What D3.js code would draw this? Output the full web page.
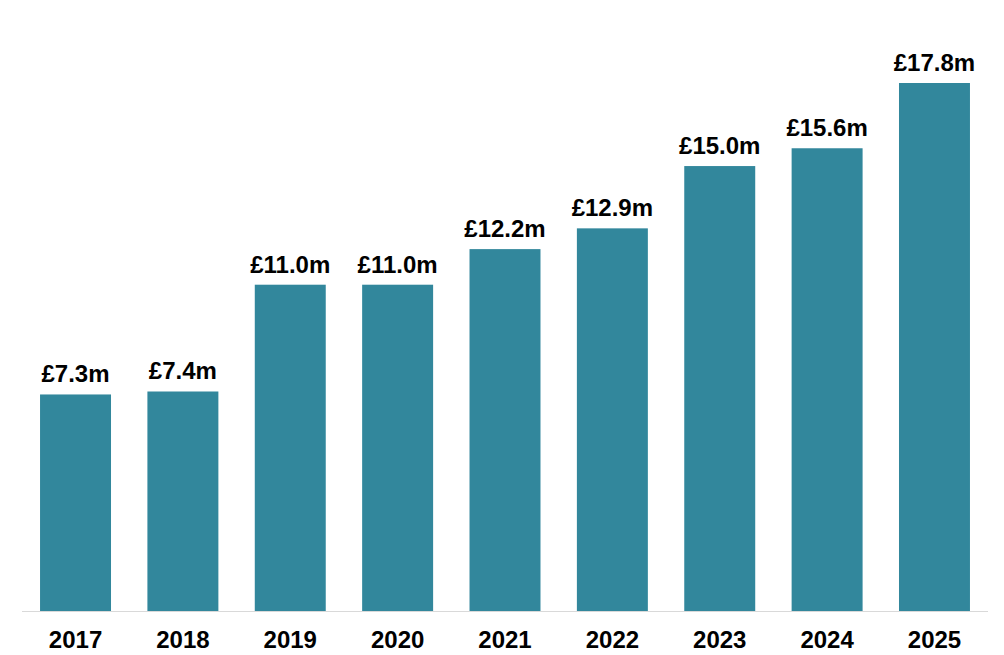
<!DOCTYPE html>
<html>
<head>
<meta charset="UTF-8">
<title>Annual value</title>
<script src="https://d3js.org/d3.v7.min.js"></script>
<style>
  body { margin: 0; background: #fff; }
  text { font-family: "Liberation Sans", Arial, sans-serif; font-weight: bold; fill: #000; }
</style>
</head>
<body>
<svg id="chart" width="1004" height="655"></svg>
<script>
const years = ["2017", "2018", "2019", "2020", "2021", "2022", "2023", "2024", "2025"];
const values = [7.3, 7.4, 11.0, 11.0, 12.2, 12.9, 15.0, 15.6, 17.8];

const svg = d3.select("#chart");
const baseY = 611;

const x = d3.scaleBand()
    .domain(years)
    .range([22, 988])
    .paddingInner(0.339)
    .paddingOuter(0.168);

const y = d3.scaleLinear()
    .domain([0, d3.max(values)])
    .range([baseY, 83]);

const data = years.map((yr, i) => ({ year: yr, value: values[i] }));

// bars
svg.append("g")
  .selectAll("rect")
  .data(data)
  .join("rect")
    .attr("x", d => x(d.year))
    .attr("y", d => y(d.value))
    .attr("width", x.bandwidth())
    .attr("height", d => baseY - y(d.value))
    .attr("fill", "#32879c");

// baseline
svg.append("line")
    .attr("x1", 22).attr("x2", 988)
    .attr("y1", baseY + 0.5).attr("y2", baseY + 0.5)
    .attr("stroke", "#d9d9d9")
    .attr("stroke-width", 1);

// value labels
svg.append("g")
  .selectAll("text")
  .data(data)
  .join("text")
    .attr("x", d => x(d.year) + x.bandwidth() / 2)
    .attr("y", d => y(d.value) - 12)
    .attr("text-anchor", "middle")
    .style("font-size", "24px")
    .text(d => "£" + d.value.toFixed(1) + "m");

// year labels
const xAxis = d3.axisBottom(x).tickSize(0).tickPadding(0);
const ax = svg.append("g")
    .attr("transform", `translate(0,${baseY})`)
    .call(xAxis);
ax.select(".domain").remove();
ax.selectAll("text")
    .attr("dy", 0)
    .attr("y", 37)
    .style("font-size", "24px")
    .style("font-family", "'Liberation Sans', Arial, sans-serif")
    .style("font-weight", "bold")
    .attr("fill", "#000");
</script>
</body>
</html>
